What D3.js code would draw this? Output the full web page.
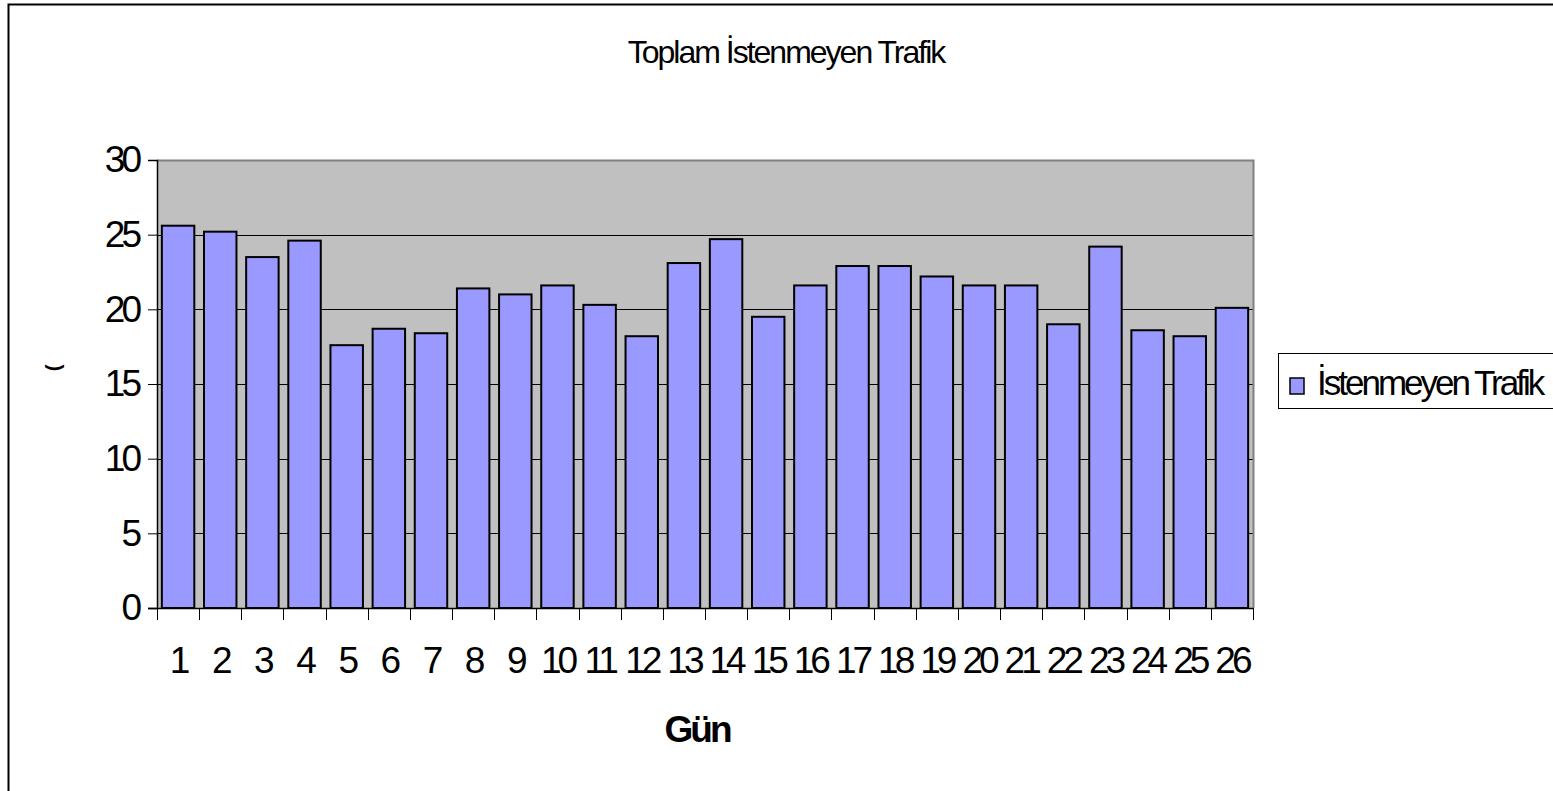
<!DOCTYPE html>
<html>
<head>
<meta charset="utf-8">
<script src="https://cdn.jsdelivr.net/npm/d3@7"></script>
<style>
  body { margin: 0; background: #fff; }
  svg { display: block; font-family: "Liberation Sans", Arial, sans-serif; }
</style>
</head>
<body>
<svg width="1553" height="791"></svg>
<script>
// data
var days = ["1","2","3","4","5","6","7","8","9","10","11","12","13","14","15","16","17","18","19","20","21","22","23","24","25","26"];
var traffic = [25.6,25.2,23.5,24.6,17.6,18.7,18.4,21.4,21.0,21.6,20.3,18.2,23.1,24.7,19.5,21.6,22.9,22.9,22.2,21.6,21.6,19.0,24.2,18.6,18.2,20.1];
var yTicks = [0,5,10,15,20,25,30];
var seriesName = "İstenmeyen Trafik";
var chartTitle = "Toplam İstenmeyen Trafik";
var xTitle = "Gün";

var svg = d3.select("svg");

// outer chart border (runs off the right / bottom)
svg.append("rect")
  .attr("x", 8.5).attr("y", 4.5)
  .attr("width", 1600).attr("height", 900)
  .attr("fill", "#fff").attr("stroke", "#000").attr("stroke-width", 2);

var plotLeft = 157, plotRight = 1253, plotTop = 160, plotBottom = 608;

var x = d3.scaleBand().domain(days).range([plotLeft, plotRight]).paddingInner(0.23).paddingOuter(0.115);
var y = d3.scaleLinear().domain([0, 30]).range([plotBottom, plotTop]);

// plot area
svg.append("rect")
  .attr("x", plotLeft).attr("y", plotTop)
  .attr("width", plotRight - plotLeft).attr("height", plotBottom - plotTop)
  .attr("fill", "#c0c0c0");

// gridlines
svg.append("g").selectAll("line")
  .data(yTicks.filter(function(d) { return d > 0 && d < 30; }))
  .enter().append("line")
    .attr("x1", plotLeft).attr("x2", plotRight)
    .attr("y1", function(d) { return Math.round(y(d)) + 0.5; })
    .attr("y2", function(d) { return Math.round(y(d)) + 0.5; })
    .attr("stroke", "#000").attr("stroke-width", 1);

// gray frame top + right
svg.append("path")
  .attr("d", "M" + plotLeft + "," + (plotTop + 0.5) + "H" + (plotRight + 0.5) + "V" + plotBottom)
  .attr("fill", "none").attr("stroke", "#808080").attr("stroke-width", 2);

// bars
svg.append("g").selectAll("rect")
  .data(traffic)
  .enter().append("rect")
    .attr("x", function(d, i) { return x(days[i]); })
    .attr("y", function(d) { return y(d); })
    .attr("width", x.bandwidth())
    .attr("height", function(d) { return y(0) - y(d); })
    .attr("fill", "#9999ff")
    .attr("stroke", "#000").attr("stroke-width", 2);

// y axis
var yAxis = svg.append("g")
  .attr("transform", "translate(" + plotLeft + ",0)")
  .call(d3.axisLeft(y).tickValues(yTicks).tickSize(9).tickPadding(10));
yAxis.select(".domain").attr("stroke", "#000").attr("stroke-width", 1.5);
yAxis.selectAll(".tick line").attr("stroke", "#000");
yAxis.selectAll(".tick text")
  .attr("font-size", 37).attr("letter-spacing", "-4px").attr("fill", "#000")
  .attr("font-family", "Liberation Sans, Arial, sans-serif");

// x axis line + ticks at band edges
svg.append("line")
  .attr("x1", plotLeft - 9).attr("x2", plotRight)
  .attr("y1", plotBottom + 0.5).attr("y2", plotBottom + 0.5)
  .attr("stroke", "#000").attr("stroke-width", 1.5);

var edges = days.map(function(d) { return x(d) - x.step() * 0.115; });
edges.push(plotRight);
svg.append("g").selectAll("line")
  .data(edges)
  .enter().append("line")
    .attr("x1", function(d) { return Math.round(d) + 0.5; })
    .attr("x2", function(d) { return Math.round(d) + 0.5; })
    .attr("y1", plotBottom).attr("y2", plotBottom + 12)
    .attr("stroke", "#000");

svg.append("g").selectAll("text")
  .data(days)
  .enter().append("text")
    .attr("x", function(d) { return x(d) + x.bandwidth() / 2; })
    .attr("y", 673)
    .attr("text-anchor", "middle")
    .attr("font-size", 37).attr("letter-spacing", "-4px")
    .text(function(d) { return d; });

// titles
svg.append("text")
  .attr("x", 786).attr("y", 63)
  .attr("text-anchor", "middle")
  .attr("font-size", 32).attr("letter-spacing", "-2px")
  .text(chartTitle);

svg.append("text")
  .attr("x", 697).attr("y", 742)
  .attr("text-anchor", "middle")
  .attr("font-size", 37).attr("font-weight", "bold").attr("letter-spacing", "-3px")
  .text(xTitle);

// y axis title (only a scrap of it is visible)
svg.append("text")
  .attr("transform", "translate(60,368) rotate(-90)")
  .attr("text-anchor", "middle")
  .attr("font-size", 20).attr("font-weight", "bold")
  .text("(");

// legend
var legend = svg.append("g");
legend.append("rect")
  .attr("x", 1278.5).attr("y", 353.5)
  .attr("width", 300).attr("height", 55)
  .attr("fill", "#fff").attr("stroke", "#000").attr("stroke-width", 1);
legend.append("rect")
  .attr("x", 1290).attr("y", 378)
  .attr("width", 14).attr("height", 16)
  .attr("fill", "#9999ff").attr("stroke", "#000").attr("stroke-width", 1.5);
legend.append("text")
  .attr("x", 1317).attr("y", 395)
  .attr("font-size", 35).attr("letter-spacing", "-3px")
  .text(seriesName);
</script>
</body>
</html>
